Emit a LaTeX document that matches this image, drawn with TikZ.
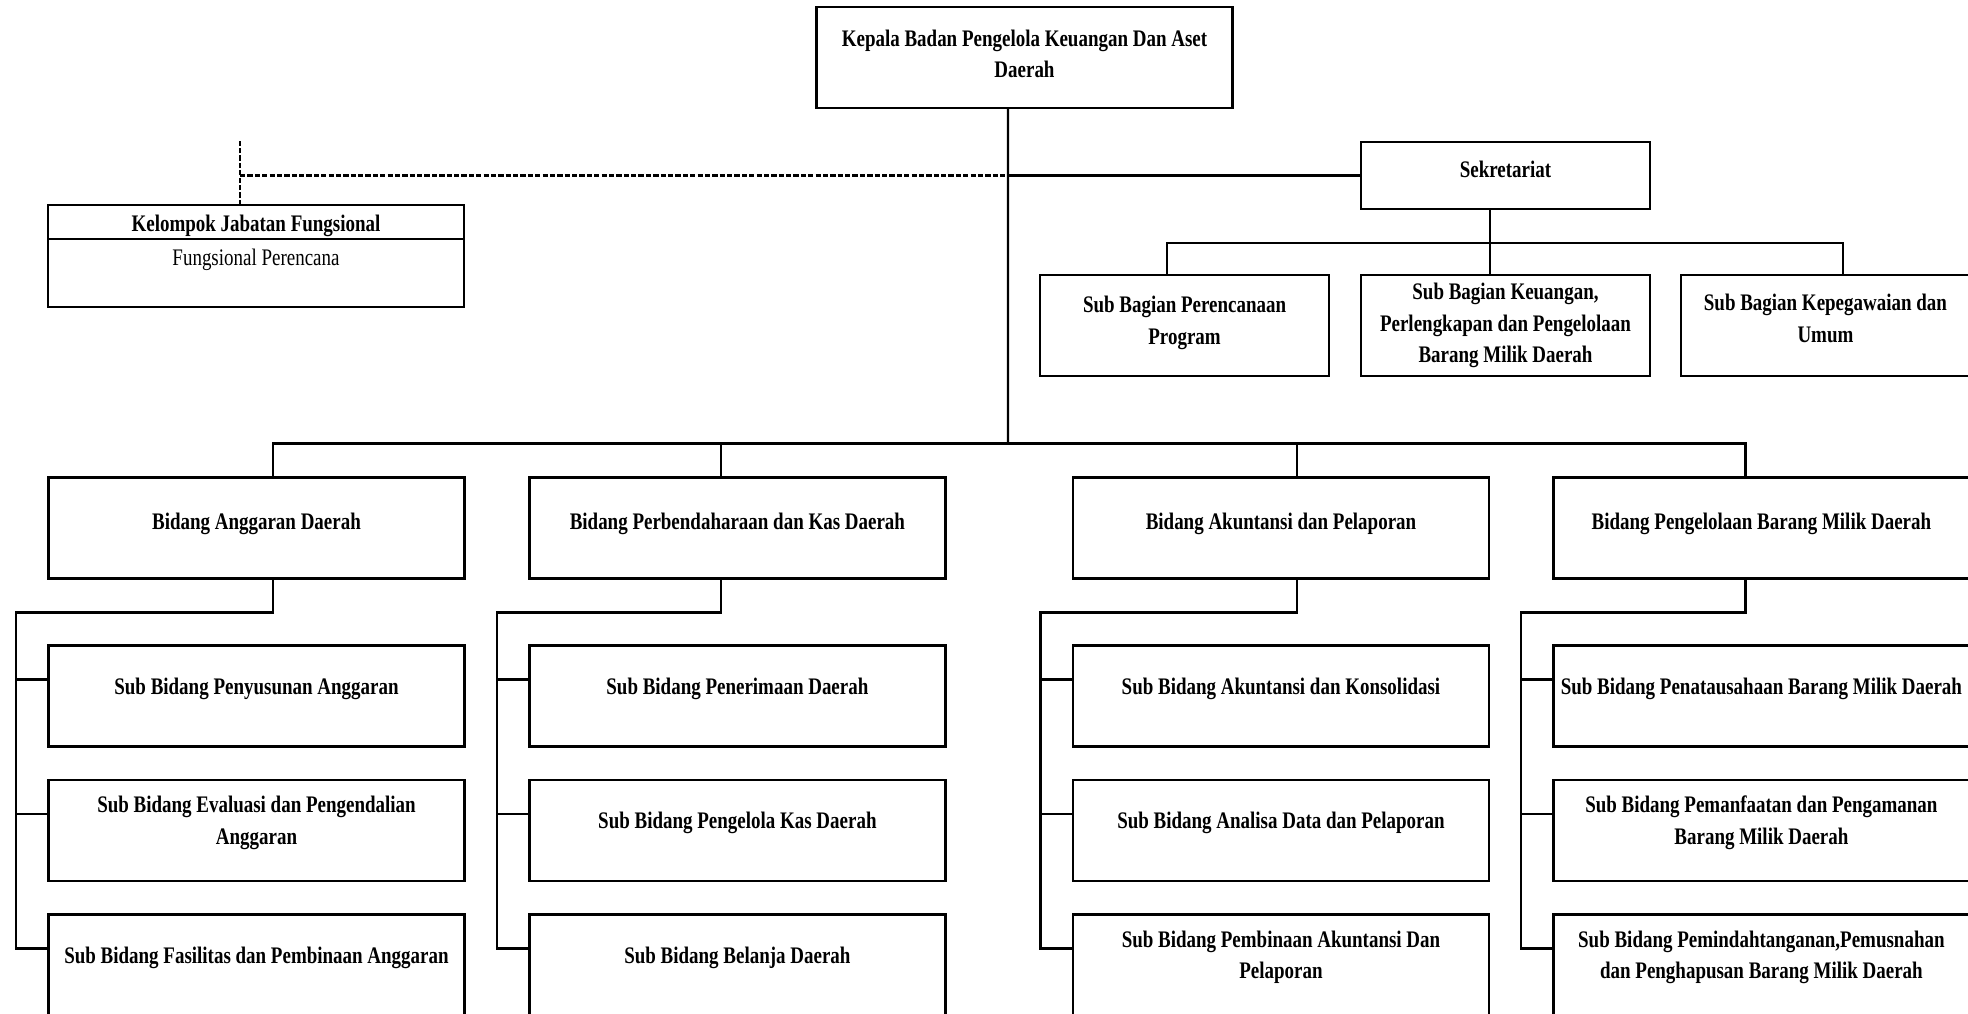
\documentclass[tikz,border=0pt]{standalone}
\usepackage{fontspec}
\newfontfamily\unitfont[FakeStretch=0.8]{Liberation Serif}
\usetikzlibrary{positioning}

\tikzset{
  unit/.style={draw, line width=1.5pt, outer sep=0pt, minimum width=8.32cm, minimum height=2.02cm,
    align=center, inner sep=2pt, font=\unitfont\bfseries\fontsize{13.5}{18}\selectfont},
  lift/.style={execute at end node={\vrule width 0pt height 0pt depth #1}},
  bidang/.style={unit, lift=0.26cm},
  subbidang/.style={unit, lift=0.4cm},
  subunit/.style={unit, minimum width=5.78cm},
  link/.style={line width=1.3pt},
  dotlink/.style={link, dash pattern=on 3pt off 1.2pt},
}

\begin{document}
\begin{tikzpicture}[x=0.02cm, y=-0.02cm]
  \useasboundingbox (0,0) rectangle (1968,1014);

  % Define nodes
  \node[unit, lift=0.15cm] (kepala) at (1024.5,57.5) {Kepala Badan Pengelola Keuangan Dan Aset\\Daerah};
  \node[subunit, lift=0.24cm, minimum height=1.34cm] (sek) at (1505.5,175.5) {Sekretariat};
  \node[subunit, below=1.32cm of sek]  (sbk) {Sub Bagian Keuangan,\\Perlengkapan dan Pengelolaan\\Barang Milik Daerah};
  \node[subunit, lift=0.22cm, left=0.64cm of sbk]   (sbp) {Sub Bagian Perencanaan\\Program};
  \node[subunit, lift=0.28cm, right=0.62cm of sbk]  (sbu) {Sub Bagian Kepegawaian dan\\Umum};

  \node[unit, minimum height=0.68cm, inner ysep=0pt,
        execute at begin node={\vrule width 0pt height 0.49cm depth 0pt}] (kjf) at (256,222) {Kelompok Jabatan Fungsional};
  \node[unit, minimum height=1.36cm, below=0pt of kjf] (kjf-body) {};
  \node[font=\unitfont\fontsize{13.5}{18}\selectfont] (kjf-text) at ([yshift=-0.42cm]kjf-body.north) {Fungsional Perencana};

  \node[bidang] (ba) at (256.5,528) {Bidang Anggaran Daerah};
  \node[bidang, right=1.3cm of ba] (bp) {Bidang Perbendaharaan dan Kas Daerah};
  \node[bidang] (bk) at (1281,528) {Bidang Akuntansi dan Pelaporan};
  \node[bidang, right=1.29cm of bk] (bm) {Bidang Pengelolaan Barang Milik Daerah};

  \node[subbidang, below=1.34cm of ba]  (ba1) {Sub Bidang Penyusunan Anggaran};
  \node[subbidang, below=0.67cm of ba1] (ba2) {Sub Bidang Evaluasi dan Pengendalian\\Anggaran};
  \node[subbidang, below=0.67cm of ba2] (ba3) {Sub Bidang Fasilitas dan Pembinaan Anggaran};

  \node[subbidang, below=1.34cm of bp]  (bp1) {Sub Bidang Penerimaan Daerah};
  \node[subbidang, below=0.67cm of bp1] (bp2) {Sub Bidang Pengelola Kas Daerah};
  \node[subbidang, below=0.67cm of bp2] (bp3) {Sub Bidang Belanja Daerah};

  \node[subbidang, below=1.34cm of bk]  (bk1) {Sub Bidang Akuntansi dan Konsolidasi};
  \node[subbidang, below=0.67cm of bk1] (bk2) {Sub Bidang Analisa Data dan Pelaporan};
  \node[subbidang, below=0.67cm of bk2] (bk3) {Sub Bidang Pembinaan Akuntansi Dan\\Pelaporan};

  \node[subbidang, below=1.34cm of bm]  (bm1) {Sub Bidang Penatausahaan Barang Milik Daerah};
  \node[subbidang, below=0.67cm of bm1] (bm2) {Sub Bidang  Pemanfaatan dan Pengamanan\\Barang Milik Daerah};
  \node[subbidang, below=0.67cm of bm2] (bm3) {Sub Bidang Pemindahtanganan,Pemusnahan\\dan Penghapusan Barang Milik Daerah};

  % Connect the nodes
  \coordinate (bus) at (1008,443.5);
  \coordinate (ba-up) at ([xshift=0.33cm]ba.north);
  \coordinate (bp-up) at ([xshift=-0.33cm]bp.north);
  \coordinate (bk-up) at ([xshift=0.32cm]bk.north);
  \coordinate (bm-up) at ([xshift=-0.32cm]bm.north);
  \draw[link] ([xshift=-0.33cm]kepala.south) -- (bus);
  \draw[link] (ba-up) |- (bm-up |- bus) -- (bm-up);
  \draw[link] (bp-up) -- (bp-up |- bus);
  \draw[link] (bk-up) -- (bk-up |- bus);

  \draw[link] (bus |- sek.west) -- (sek.west);
  \coordinate (kjf-up) at ([xshift=-0.32cm]kjf.north);
  \draw[dotlink] (kjf-up) -- ++(0,1.32cm);
  \draw[dotlink] (kjf-up |- sek.west) -- (bus |- sek.west);

  \coordinate (sek-down) at ([xshift=-0.31cm]sek.south);
  \draw[link] (sek-down) -- (sek-down |- sbk.north);
  \draw[link] ([xshift=-0.35cm]sbp.north) -- ++(0,0.64cm) -| ([xshift=0.35cm]sbu.north);

  % Sub bidang
  \draw[link] ([xshift=0.33cm]ba.south) -- ++(0,-0.68cm) -| ([xshift=-0.65cm,yshift=0.33cm]ba3.west) -- ([yshift=0.33cm]ba3.west);
  \draw[link] ([yshift=0.33cm]ba1.west) -- ++(-0.65cm,0) ([yshift=0.33cm]ba2.west) -- ++(-0.65cm,0);
  \draw[link] ([xshift=-0.33cm]bp.south) -- ++(0,-0.68cm) -| ([xshift=-0.65cm,yshift=0.33cm]bp3.west) -- ([yshift=0.33cm]bp3.west);
  \draw[link] ([yshift=0.33cm]bp1.west) -- ++(-0.65cm,0) ([yshift=0.33cm]bp2.west) -- ++(-0.65cm,0);
  \draw[link] ([xshift=0.32cm]bk.south) -- ++(0,-0.68cm) -| ([xshift=-0.65cm,yshift=0.33cm]bk3.west) -- ([yshift=0.33cm]bk3.west);
  \draw[link] ([yshift=0.33cm]bk1.west) -- ++(-0.65cm,0) ([yshift=0.33cm]bk2.west) -- ++(-0.65cm,0);
  \draw[link] ([xshift=-0.32cm]bm.south) -- ++(0,-0.68cm) -| ([xshift=-0.65cm,yshift=0.33cm]bm3.west) -- ([yshift=0.33cm]bm3.west);
  \draw[link] ([yshift=0.33cm]bm1.west) -- ++(-0.65cm,0) ([yshift=0.33cm]bm2.west) -- ++(-0.65cm,0);
\end{tikzpicture}
\end{document}
